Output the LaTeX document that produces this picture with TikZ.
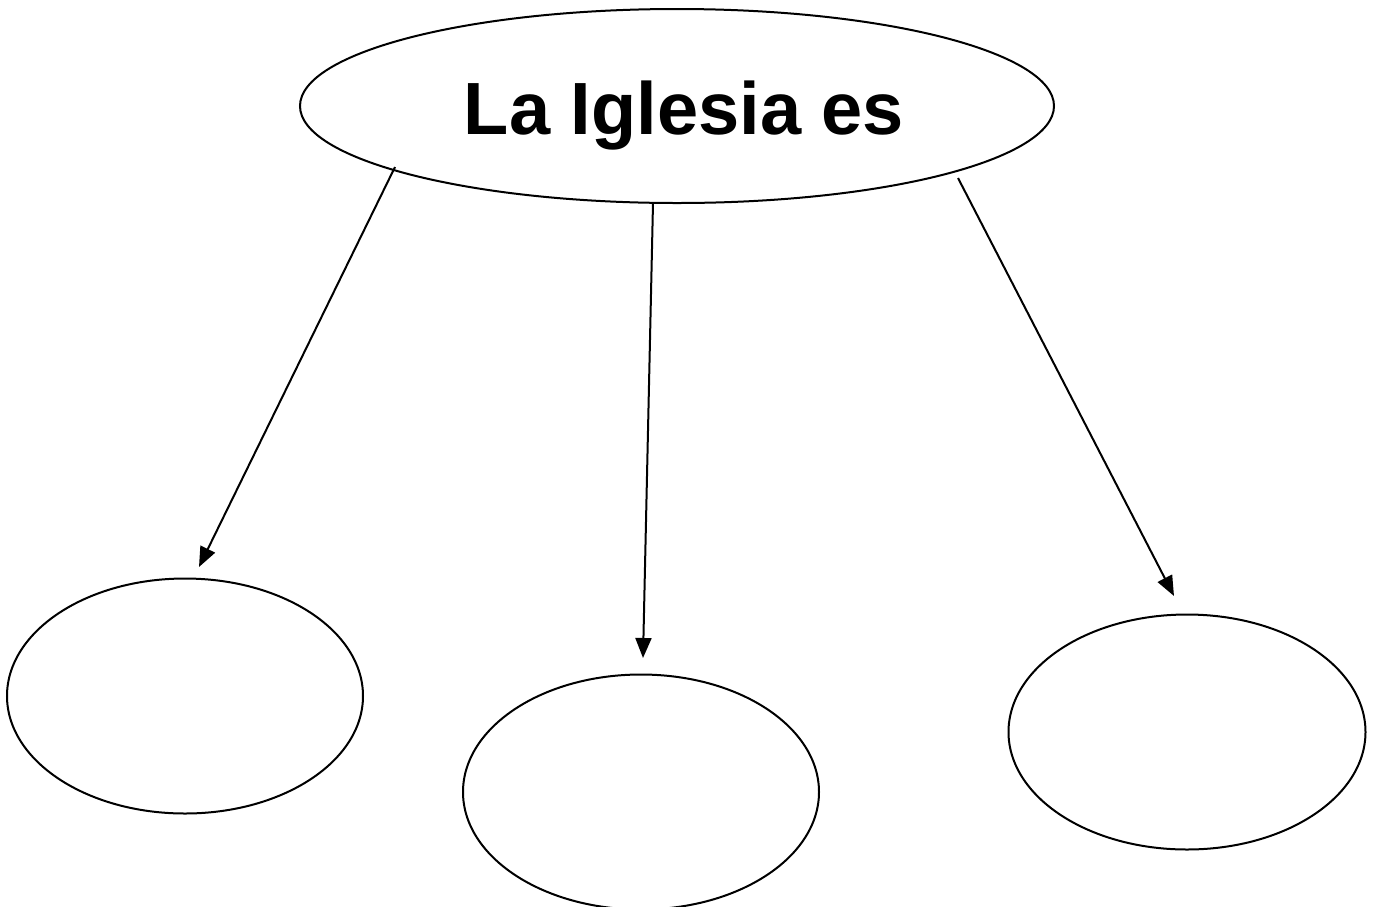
\documentclass[tikz,border=0pt]{standalone}
\usepackage{fontspec}
\setmainfont{Liberation Sans}
\usetikzlibrary{arrows.meta,shapes.geometric}
\begin{document}
\begin{tikzpicture}[x=1pt,y=-1pt,
  oval/.style={draw=black,line width=2pt,ellipse,inner sep=0pt},
  arr/.style={line width=2pt,-{Triangle[length=20pt,width=16pt]}}]
\useasboundingbox (0,0) rectangle (1374,906);
\node[oval,minimum width=754pt,minimum height=194pt] (top) at (677,106) {};
\node[anchor=base,font=\bfseries\fontsize{74}{80}\selectfont] (title) at (684,134) {La Iglesia es};
\node[oval,minimum width=356pt,minimum height=235pt] (left) at (185,696) {};
\node[oval,minimum width=356pt,minimum height=235pt] (mid) at (641,792) {};
\node[oval,minimum width=357pt,minimum height=235pt] (right) at (1187,732) {};
\coordinate (s1) at (395,167);
\coordinate (e1) at (199,567);
\coordinate (s2) at (653,203);
\coordinate (e2) at (643,658);
\coordinate (s3) at (958,178);
\coordinate (e3) at (1174,596);
\draw[arr] (s1) -- (e1);
\draw[arr] (s2) -- (e2);
\draw[arr] (s3) -- (e3);
\end{tikzpicture}
\end{document}
